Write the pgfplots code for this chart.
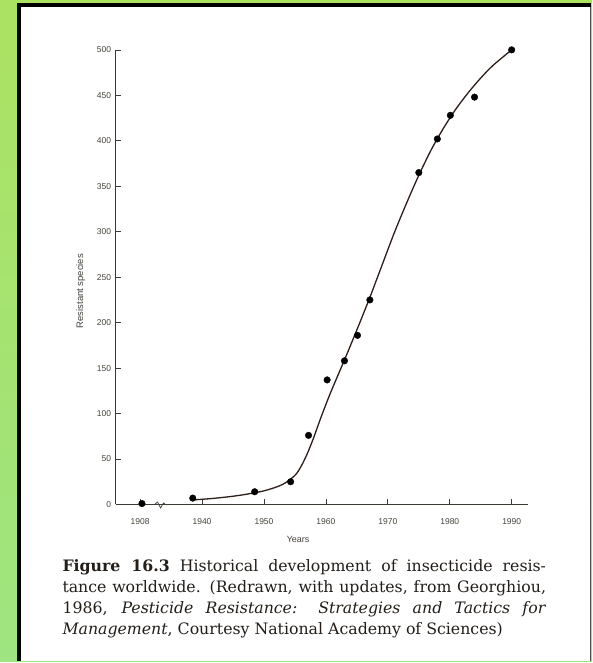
\documentclass[border=0pt]{standalone}
\usepackage{pgfplots}
\pgfplotsset{compat=1.18}
\usepackage{fontspec}
\setmainfont{DejaVu Serif}
\newfontfamily\lsans{Liberation Sans}
\definecolor{bggreen}{RGB}{172,226,98}
\definecolor{bggreen2}{RGB}{158,228,128}
\definecolor{axcol}{RGB}{60,58,50}
\definecolor{lblcol}{RGB}{70,66,58}
\definecolor{txtcol}{RGB}{35,30,25}
\definecolor{curvecol}{RGB}{45,30,25}
\pgfplotstableread{
year value
1930.3 1
1938.5 7
1948.5 14
1954.3 25
1957.2 76
1960.2 137
1963.0 158
1965.1 186
1967.1 225
1975.0 365
1978.0 402
1980.1 428
1984.0 448
1990.0 500
}\datapts
\pgfplotstableread{
year value
1938.5 5
1942 6.8
1946 10
1950 15
1953 22
1955 32
1956 42
1957 56
1958 73
1959 92
1960 110
1961 127
1963 159
1965 192
1967 226
1969 262
1971 298
1973 331
1975 362
1977 390
1979 414
1981 435
1983 453
1985 469
1987 483
1990 500
}\curve
\begin{document}
\begin{tikzpicture}[x=1pt,y=1pt]
\shade[top color=bggreen, bottom color=bggreen2] (0,0) rectangle (594,663);
\fill[white] (19,0) rectangle (592.5,657);
\draw[black, line width=4pt] (19,0) -- (19,658) -- (592.5,658);
\draw[black!70, line width=1.2pt] (592.5,0) -- (592.5,656);
\begin{axis}[
  at={(116pt,157pt)}, anchor=south west,
  scale only axis, width=414pt, height=456pt,
  xmin=1926.05, xmax=1992.7, ymin=0, ymax=500,
  axis lines*=left,
  axis line style={axcol, line width=0.8pt, -},
  tick align=inside, major tick length=5pt,
  tick style={axcol, line width=0.7pt},
  xtick={1930,1940,1950,1960,1970,1980,1990},
  xticklabels={1908,1940,1950,1960,1970,1980,1990},
  ytick={0,50,...,500},
  /pgf/number format/assume math mode=true,
  ticklabel style={font=\lsans\fontsize{8.5}{9}\selectfont, text=lblcol},
  xticklabel style={yshift=-11pt},
  yticklabel style={xshift=-1pt},
  clip=false,
]
\addplot[curvecol, line width=1.3pt, smooth, tension=0.5] table[x=year,y=value] {\curve};
\addplot[only marks, mark=*, mark size=3.3pt, mark options={fill=black, draw=black}] table[x=year,y=value] {\datapts};
\end{axis}
\draw[axcol, line width=0.7pt] (155,157) -- (158,159.5) -- (161,153.5) -- (164,158.5) -- (166,157);
\node[rotate=90, font=\lsans\fontsize{9.5}{10}\selectfont, text=lblcol] at (81,371) {Resistant species};
\node[font=\lsans\fontsize{9}{10}\selectfont, text=lblcol] at (299,122) {Years};
\begin{scope}[font=\fontsize{15.8}{18}\selectfont, text=txtcol]
\node[anchor=base west, inner sep=0] at (62.5,90) {\makebox[485pt][s]{\textbf{Figure 16.3} Historical development of insecticide resis-}};
\node[anchor=base west, inner sep=0] at (62.5,69) {\makebox[485pt][s]{tance worldwide. (Redrawn, with updates, from Georghiou,}};
\node[anchor=base west, inner sep=0] at (62.5,48) {\makebox[485pt][s]{1986, \textit{Pesticide Resistance: Strategies and Tactics for}}};
\node[anchor=base west, inner sep=0] at (62.5,26.5) {\textit{Management}, Courtesy National Academy of Sciences)};
\end{scope}
\end{tikzpicture}
\end{document}
